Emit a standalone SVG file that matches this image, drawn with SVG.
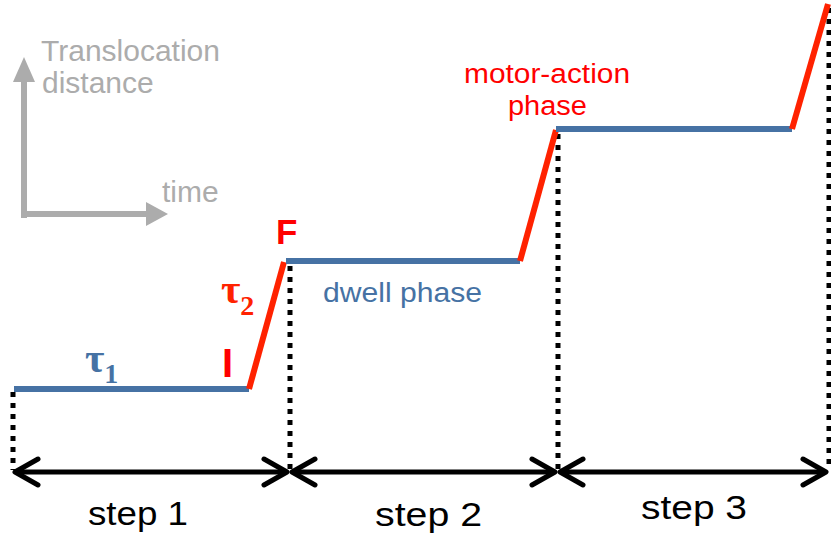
<svg xmlns="http://www.w3.org/2000/svg" width="831" height="537" viewBox="0 0 831 537">
<style>
.blue{stroke:#4672a4;stroke-width:6;fill:none}
.red{stroke:#ff2200;stroke-width:6;fill:none}
.dot{stroke:#000;stroke-width:5;stroke-dasharray:5 6;fill:none}
.span{stroke:#000;stroke-width:5;fill:none;marker-start:url(#chev);marker-end:url(#chev)}
.axis{stroke:#acacac;stroke-width:6;fill:none}
.gtxt{font-family:"Liberation Sans",Arial,sans-serif;font-size:30px;fill:#acacac}
.step{font-family:"Liberation Sans",Arial,sans-serif;font-size:34px;fill:#000}
.lbl{font-family:"Liberation Sans",Arial,sans-serif;font-size:27px}
.big{font-family:"Liberation Sans",Arial,sans-serif;font-weight:bold;fill:#ff0000}
.tau{font-family:"Liberation Serif","Times New Roman",serif;font-weight:bold}
</style>
<defs>
<marker id="chev" markerUnits="userSpaceOnUse" markerWidth="34" markerHeight="34" viewBox="0 0 34 34" refX="28" refY="17" orient="auto-start-reverse" overflow="visible">
<path d="M5,4 L28,17 L5,30" stroke="#000" stroke-width="5" fill="none" stroke-linecap="round" stroke-linejoin="round"/>
</marker>
</defs>
<g id="axes">
<path class="axis" d="M24,218 V78"/>
<polygon points="24,57 13,82 35,82" fill="#acacac"/>
<path class="axis" d="M21,214 H148"/>
<polygon points="168,214 146,202 146,226" fill="#acacac"/>
<text class="gtxt" x="41" y="61">Translocation</text>
<text class="gtxt" x="42" y="93">distance</text>
<text class="gtxt" x="162" y="202">time</text>
</g>
<g id="connectors">
<path class="dot" d="M13,392 V470"/>
<path class="dot" d="M290,266 V470"/>
<path class="dot" d="M558,134 V470"/>
<path class="dot" d="M829,8 V470"/>
<path class="span" d="M15,472 H287"/>
<path class="span" d="M292,472 H555"/>
<path class="span" d="M560,472 H826"/>
</g>
<g id="step1">
<path class="blue" d="M14,389 H249"/>
<path class="red" d="M249,389 L284,262"/>
</g>
<g id="step2">
<path class="blue" d="M286,261 H520"/>
<path class="red" d="M520,261 L556,130"/>
</g>
<g id="step3">
<path class="blue" d="M556,129 H792"/>
<path class="red" d="M792,129 L828,4"/>
</g>
<g id="labels">
<text class="tau" x="85" y="372" font-size="42" fill="#4672a4">τ<tspan font-size="28" dy="11">1</tspan></text>
<text class="tau" x="221" y="303" font-size="42" fill="#ff2200">τ<tspan font-size="28" dy="12">2</tspan></text>
<text class="big" x="222" y="377" font-size="40">I</text>
<text class="big" x="276" y="244" font-size="35">F</text>
<text class="lbl" x="323" y="302" fill="#4672a4" textLength="159" lengthAdjust="spacingAndGlyphs">dwell phase</text>
<text class="lbl" x="464" y="83" fill="#ff0000" textLength="166" lengthAdjust="spacingAndGlyphs">motor-action</text>
<text class="lbl" x="508" y="115" fill="#ff0000" textLength="79" lengthAdjust="spacingAndGlyphs">phase</text>
</g>
<g id="steps">
<text class="step" x="88" y="525" textLength="100" lengthAdjust="spacingAndGlyphs">step 1</text>
<text class="step" x="375" y="526" textLength="107" lengthAdjust="spacingAndGlyphs">step 2</text>
<text class="step" x="641" y="519" textLength="106" lengthAdjust="spacingAndGlyphs">step 3</text>
</g>
</svg>
